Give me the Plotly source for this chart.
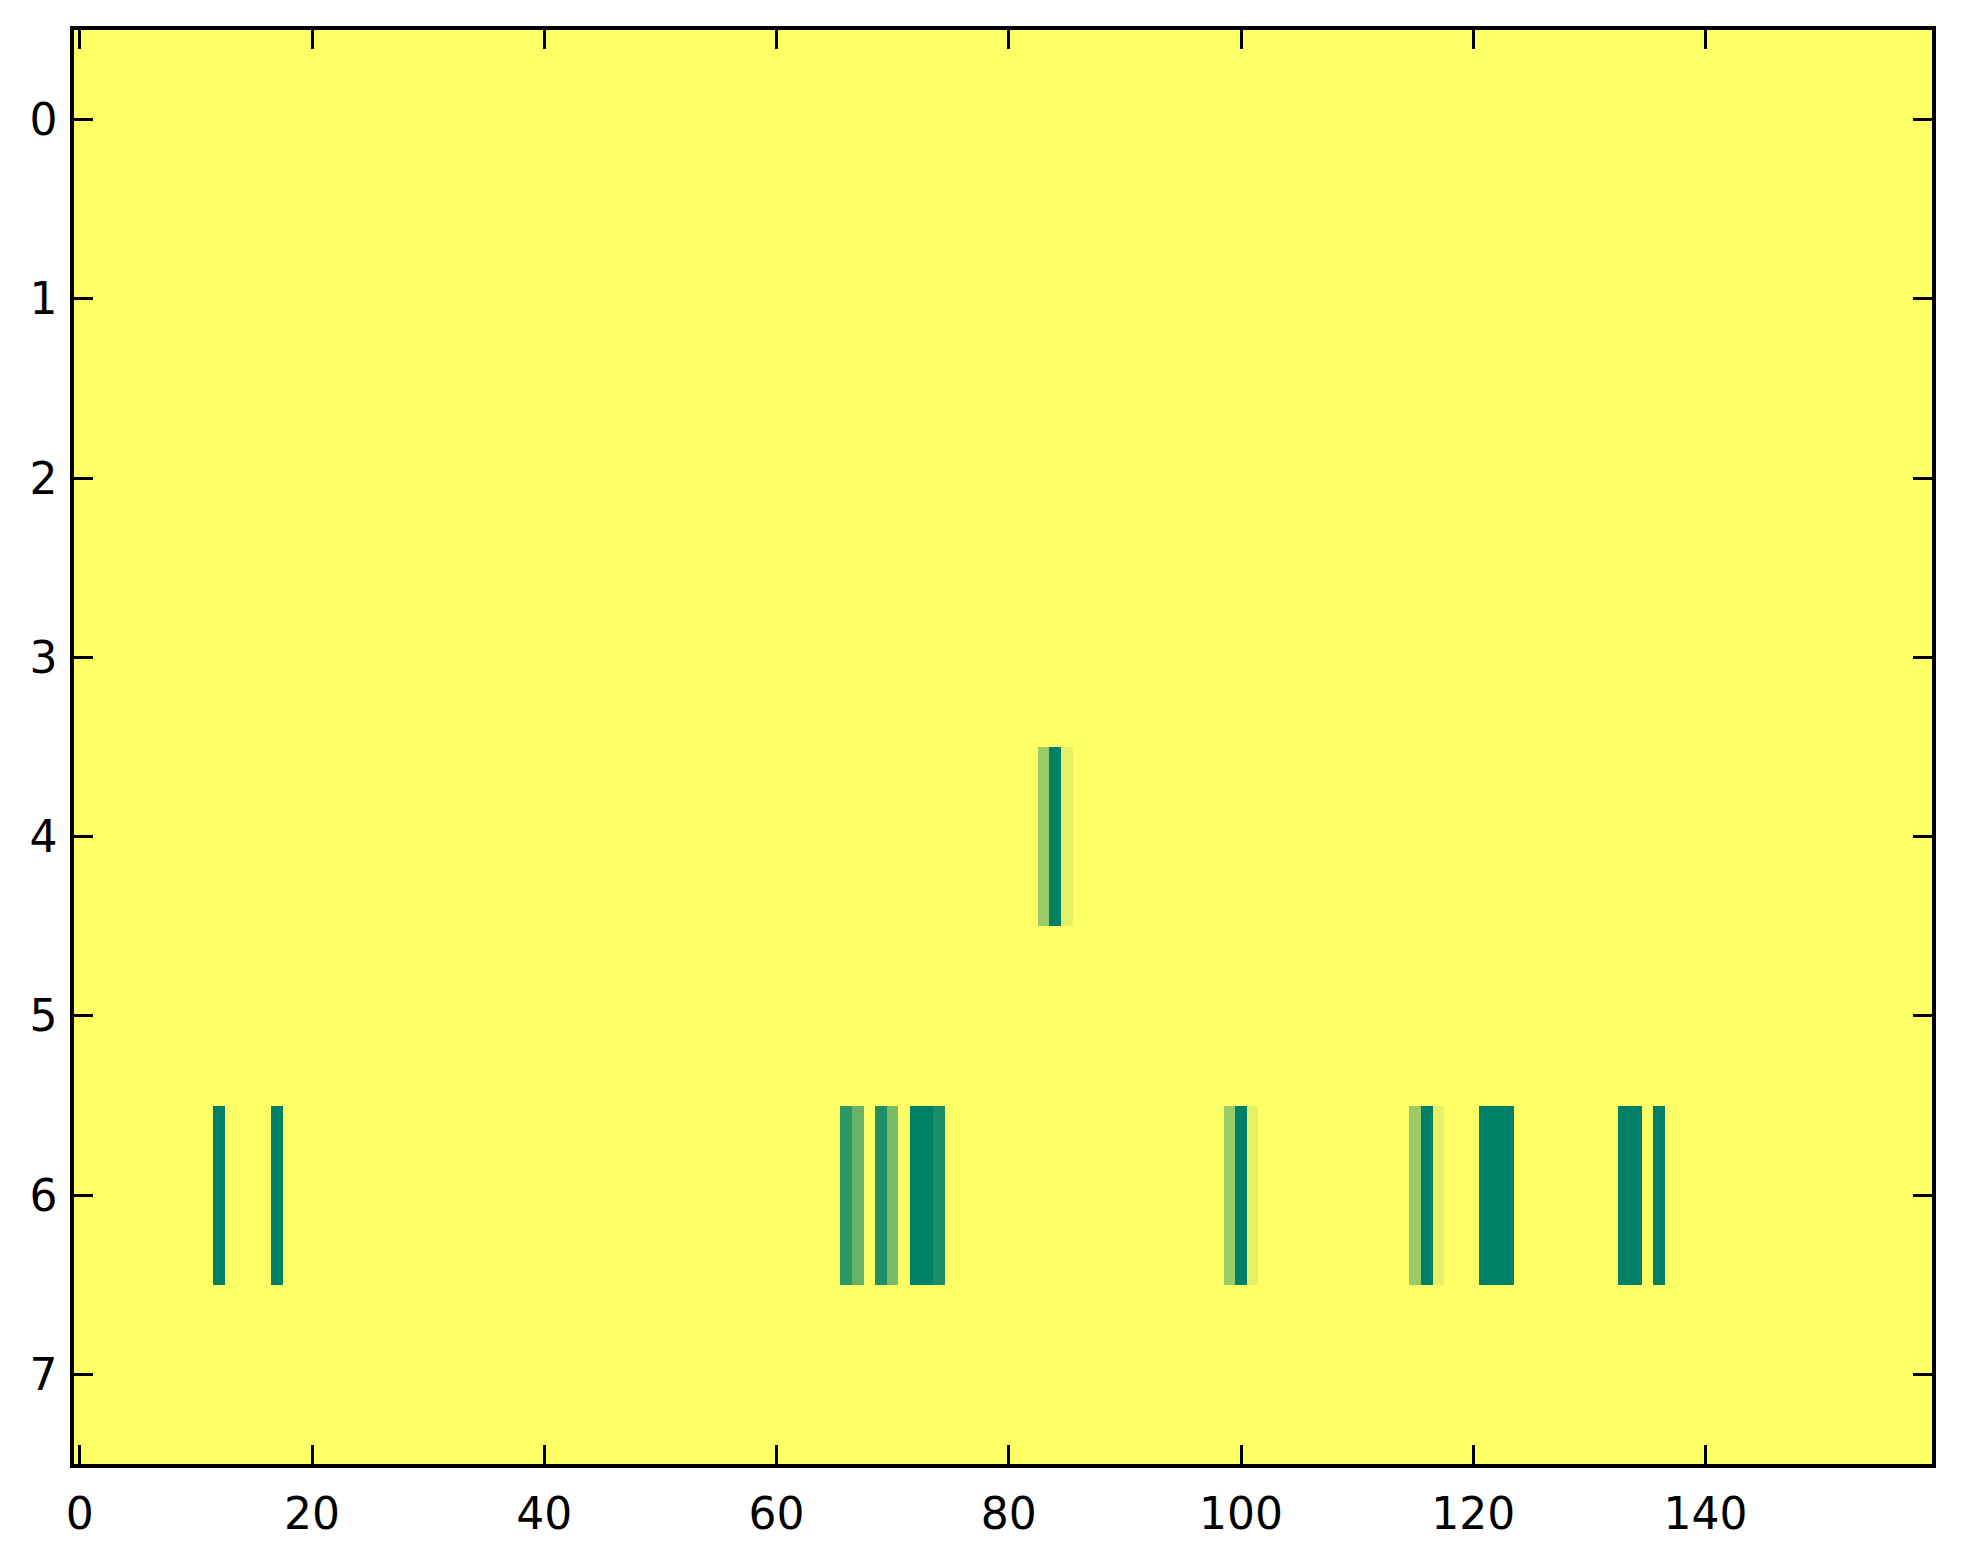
import numpy as np
import plotly.graph_objects as go

# grid shape (rows x columns), background value is 0
n_rows = 8
n_cols = 160

# row 4: a short triplet around column 84
row4_cols = [83, 84, 85]
row4_vals = [0.4, 1.0, 0.1]

# row 6: most of the activity
row6_cols = [12, 17, 66, 67, 69, 70, 72, 73, 74,
             99, 100, 101, 115, 116, 117, 121, 122, 123,
             133, 134, 136]
row6_vals = [1.0, 1.0, 0.82, 0.6, 0.88, 0.52, 1.0, 1.0, 0.9,
             0.4, 1.0, 0.1, 0.4, 1.0, 0.1, 1.0, 1.0, 1.0,
             1.0, 1.0, 1.0]

x_ticks = [0, 20, 40, 60, 80, 100, 120, 140]
y_ticks = [0, 1, 2, 3, 4, 5, 6, 7]

z = np.zeros((n_rows, n_cols))
for c, v in zip(row4_cols, row4_vals):
    z[4, c] = v
for c, v in zip(row6_cols, row6_vals):
    z[6, c] = v

# matplotlib 'summer_r'
summer_r = [[0.0, "#ffff66"], [1.0, "#008066"]]

fig = go.Figure(go.Heatmap(
    z=z,
    x=np.arange(n_cols),
    y=np.arange(n_rows),
    colorscale=summer_r,
    zmin=0, zmax=1,
    showscale=False,
    hoverinfo="skip",
))

axis_style = dict(
    showline=True, linewidth=3.5, linecolor="black", mirror="ticks",
    ticks="inside", ticklen=19, tickwidth=2.5, tickcolor="black",
    showgrid=False, zeroline=False, automargin=False,
    tickfont=dict(family="DejaVu Sans", size=44, color="black"),
)

fig.update_xaxes(range=[-0.5, n_cols - 0.5], tickvals=x_ticks,
                 ticklabelstandoff=8, **axis_style)
fig.update_yaxes(range=[n_rows - 0.5, -0.5], tickvals=y_ticks,
                 ticklabelstandoff=4, **axis_style)

fig.update_layout(
    width=1963, height=1564,
    margin=dict(l=66, r=39, t=22, b=108),
    paper_bgcolor="white", plot_bgcolor="white",
)

fig.write_html("out.html")
